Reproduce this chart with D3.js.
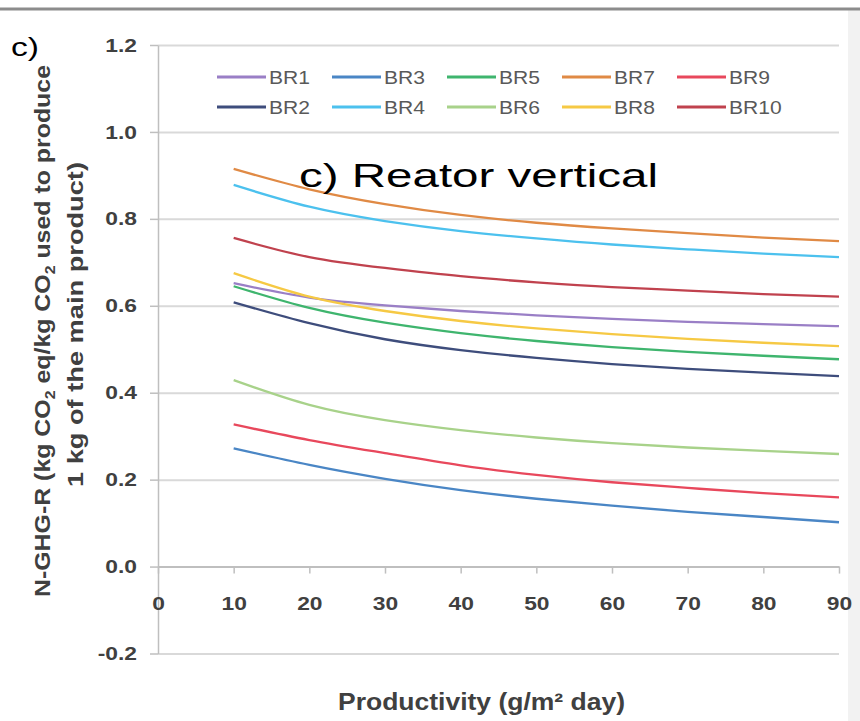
<!DOCTYPE html>
<html>
<head>
<meta charset="utf-8">
<script src="https://cdn.jsdelivr.net/npm/d3@7"></script>
<style>
  body { margin: 0; background: #ffffff; }
  #chart-container { width: 860px; height: 721px; }
</style>
</head>
<body>
<div id="chart-container"></div>
<script>
// Data
const productivity = [10, 20, 30, 40, 50, 60, 70, 80, 90];
const seriesNames = ["BR1", "BR2", "BR3", "BR4", "BR5", "BR6", "BR7", "BR8", "BR9", "BR10"];
const br1 = [0.652, 0.619, 0.601, 0.588, 0.578, 0.570, 0.563, 0.558, 0.553];
const br2 = [0.608, 0.560, 0.523, 0.498, 0.480, 0.466, 0.455, 0.446, 0.438];
const br3 = [0.272, 0.234, 0.202, 0.176, 0.156, 0.140, 0.126, 0.114, 0.102];
const br4 = [0.878, 0.828, 0.795, 0.772, 0.755, 0.741, 0.730, 0.720, 0.712];
const br5 = [0.645, 0.595, 0.561, 0.537, 0.519, 0.505, 0.494, 0.485, 0.477];
const br6 = [0.429, 0.372, 0.337, 0.314, 0.297, 0.284, 0.274, 0.266, 0.259];
const br7 = [0.915, 0.868, 0.834, 0.809, 0.791, 0.778, 0.767, 0.757, 0.749];
const br8 = [0.675, 0.621, 0.588, 0.565, 0.548, 0.535, 0.524, 0.515, 0.507];
const br9 = [0.327, 0.291, 0.261, 0.233, 0.211, 0.194, 0.181, 0.169, 0.159];
const br10 = [0.756, 0.712, 0.687, 0.668, 0.654, 0.643, 0.635, 0.627, 0.621];
const seriesValues = [br1, br2, br3, br4, br5, br6, br7, br8, br9, br10];
const xTicks = [0, 10, 20, 30, 40, 50, 60, 70, 80, 90];
const yTicks = [-0.2, 0.0, 0.2, 0.4, 0.6, 0.8, 1.0, 1.2];

const colors = {
    BR1: "#9a7fc6",
    BR2: "#3e4d7c",
    BR3: "#4a86c5",
    BR4: "#4cc1ee",
    BR5: "#3fb56e",
    BR6: "#a8d28a",
    BR7: "#e08a45",
    BR8: "#f6c944",
    BR9: "#e8485c",
    BR10: "#c0424e"
};

const fullW = 860, fullH = 721;
const margin = { top: 45, right: 21, bottom: 67.5, left: 158 };
const width = fullW - margin.left - margin.right;
const height = fullH - margin.top - margin.bottom;

const root = d3.select("#chart-container")
    .append("svg")
    .attr("width", fullW)
    .attr("height", fullH);

// outer frame
root.append("rect")
    .attr("x", 0).attr("y", 0)
    .attr("width", fullW).attr("height", fullH)
    .attr("fill", "#ffffff");
root.append("rect")
    .attr("x", 848).attr("y", 10)
    .attr("width", 12).attr("height", fullH - 10)
    .attr("fill", "#f2f2f2");
root.append("line")
    .attr("x1", 0).attr("x2", fullW)
    .attr("y1", 9).attr("y2", 9)
    .attr("stroke", "#8c8c8c")
    .attr("stroke-width", 3);

const svg = root.append("g")
    .attr("transform", `translate(${margin.left},${margin.top})`);

const xScale = d3.scaleLinear().domain([0, 90]).range([0, width]);
const yScale = d3.scaleLinear().domain([-0.2, 1.2]).range([height, 0]);

const tickFont = "'Liberation Sans', Arial, sans-serif";
// Excel style: plain hyphen for negatives
const yFormat = d => d3.format(".1f")(d).replace("\u2212", "-");

// Gridlines
svg.append("g")
    .attr("class", "grid")
    .call(d3.axisLeft(yScale).tickValues(yTicks).tickSize(-width).tickFormat(""))
    .call(g => g.select(".domain").remove())
    .call(g => g.selectAll("line").attr("stroke", "#d9d9d9").attr("stroke-width", 2));

// Y Axis
const yAxis = svg.append("g")
    .call(d3.axisLeft(yScale).tickValues(yTicks).tickFormat(yFormat)
        .tickSize(8).tickSizeOuter(0).tickPadding(13));
yAxis.select(".domain").attr("stroke", "#bfbfbf").attr("stroke-width", 1.5);
yAxis.selectAll("line").attr("stroke", "#bfbfbf").attr("stroke-width", 1.5);
yAxis.selectAll("text")
    .style("font-family", tickFont)
    .style("font-size", "19px")
    .style("font-weight", "bold")
    .attr("fill", "#404040");

// X Axis at y = 0
const xAxis = svg.append("g")
    .attr("transform", `translate(0,${yScale(0)})`)
    .call(d3.axisBottom(xScale).tickValues(xTicks).tickFormat(d3.format("d"))
        .tickSize(7).tickSizeOuter(0).tickPadding(23));
xAxis.select(".domain").attr("stroke", "#bfbfbf").attr("stroke-width", 2);
xAxis.selectAll("line").attr("stroke", "#bfbfbf").attr("stroke-width", 1.5);
xAxis.selectAll("text")
    .style("font-family", tickFont)
    .style("font-size", "19px")
    .style("font-weight", "bold")
    .attr("fill", "#404040");

// stretch tick labels a little, the original is wider
svg.selectAll(".tick text").each(function() {
    const w = this.getComputedTextLength();
    d3.select(this).attr("textLength", w * 1.2).attr("lengthAdjust", "spacingAndGlyphs");
});

// Lines
const line = d3.line()
    .x(d => xScale(d.x))
    .y(d => yScale(d.y))
    .curve(d3.curveNatural);

seriesNames.forEach(function(name, i) {
    const pts = productivity.map((p, j) => ({ x: p, y: seriesValues[i][j] }));
    svg.append("path")
        .datum(pts)
        .attr("fill", "none")
        .attr("stroke", colors[name])
        .attr("stroke-width", 2.3)
        .attr("d", line);
});

// Legend, 5 columns x 2 rows
const legendCol = d3.scaleLinear().domain([0, 4]).range([217, 677]);
const legend = root.selectAll(".legend")
    .data(seriesNames)
    .enter()
    .append("g")
    .attr("class", "legend")
    .attr("transform", (d, i) => `translate(${legendCol(Math.floor(i / 2))},${i % 2 === 0 ? 77 : 107})`);

legend.append("line")
    .attr("x1", 0).attr("x2", 49)
    .attr("y1", 0).attr("y2", 0)
    .attr("stroke", d => colors[d])
    .attr("stroke-width", 3);

legend.append("text")
    .attr("x", 52)
    .attr("y", 6.5)
    .style("font-family", tickFont)
    .style("font-size", "18px")
    .attr("fill", "#595959")
    .text(d => d)
    .each(function() {
        const w = this.getComputedTextLength();
        d3.select(this).attr("textLength", w * 1.17).attr("lengthAdjust", "spacingAndGlyphs");
    });

// Panel letter
root.append("text")
    .attr("x", 11)
    .attr("y", 56)
    .attr("textLength", 28)
    .attr("lengthAdjust", "spacingAndGlyphs")
    .style("font-family", tickFont)
    .style("font-size", "25px")
    .attr("fill", "#000")
    .text("c)");

// Title
root.append("text")
    .attr("x", 299)
    .attr("y", 187)
    .attr("textLength", 359)
    .attr("lengthAdjust", "spacingAndGlyphs")
    .style("font-family", tickFont)
    .style("font-size", "34px")
    .attr("fill", "#000")
    .text("c) Reator vertical");

// X Label
root.append("text")
    .attr("x", 338)
    .attr("y", 710)
    .attr("textLength", 287)
    .attr("lengthAdjust", "spacingAndGlyphs")
    .style("font-family", tickFont)
    .style("font-size", "24px")
    .style("font-weight", "bold")
    .attr("fill", "#404040")
    .text("Productivity (g/m² day)");

// Y Label, two lines
const yTitle1 = root.append("text")
    .attr("transform", "rotate(-90)")
    .attr("x", -597)
    .attr("y", 50)
    .attr("textLength", 532)
    .attr("lengthAdjust", "spacingAndGlyphs")
    .style("font-family", tickFont)
    .style("font-size", "22px")
    .style("font-weight", "bold")
    .attr("fill", "#404040");
yTitle1.append("tspan").text("N-GHG-R (kg CO");
yTitle1.append("tspan").attr("dy", 5).style("font-size", "14px").text("2");
yTitle1.append("tspan").attr("dy", -5).text(" eq/kg CO");
yTitle1.append("tspan").attr("dy", 5).style("font-size", "14px").text("2");
yTitle1.append("tspan").attr("dy", -5).text(" used to produce");

root.append("text")
    .attr("transform", "rotate(-90)")
    .attr("x", -487)
    .attr("y", 83)
    .attr("textLength", 325)
    .attr("lengthAdjust", "spacingAndGlyphs")
    .style("font-family", tickFont)
    .style("font-size", "22px")
    .style("font-weight", "bold")
    .attr("fill", "#404040")
    .text("1 kg of the main product)");
</script>
</body>
</html>
